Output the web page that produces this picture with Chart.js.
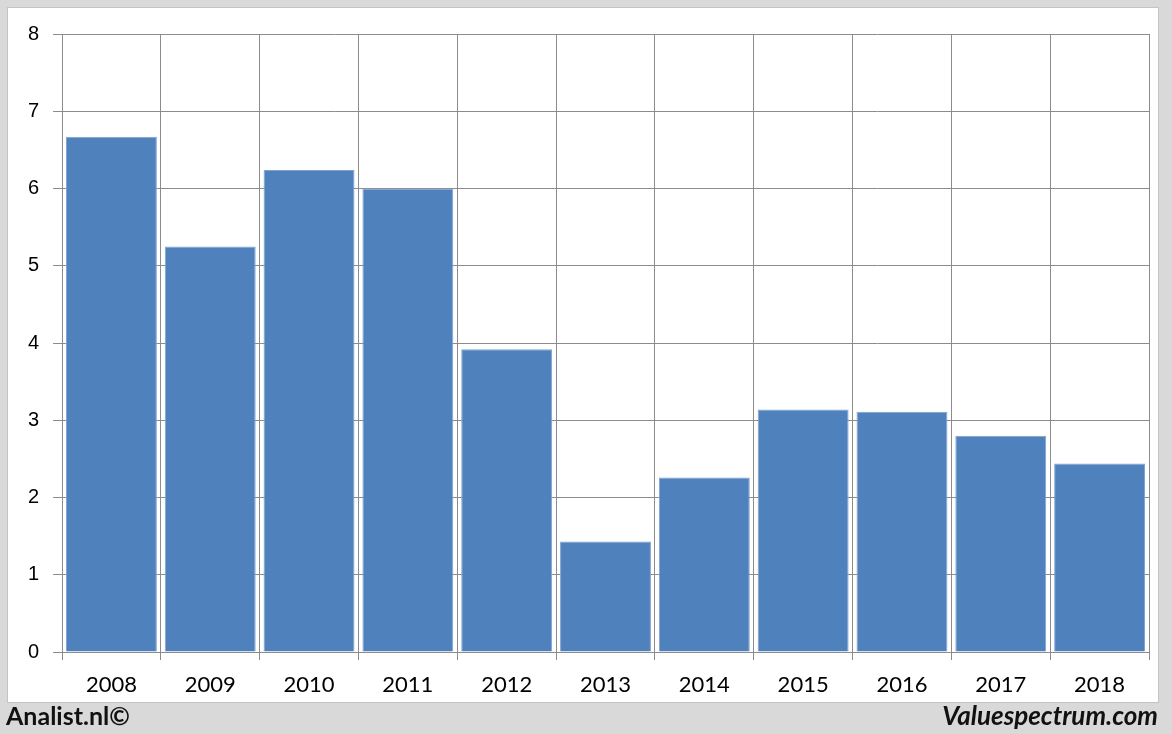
<!DOCTYPE html>
<html>
<head>
<meta charset="utf-8">
<script src="https://cdn.jsdelivr.net/npm/chart.js@4/dist/chart.umd.min.js"></script>
<style>
    body { margin: 0; background: #d9d9d9; width: 1172px; height: 734px; overflow: hidden; position: relative; }
    #panel { position: absolute; left: 8px; top: 8px; width: 1150px; height: 694px; background: #fff; box-shadow: 0 0 0 1px #c4c4c4; }
    #footer-left { position: absolute; left: 6px; top: 700px; font: bold 25px Lato, sans-serif; color: #111; }
    #footer-right { position: absolute; right: 14px; top: 699px; font: italic bold 26px Lato, sans-serif; color: #111; }
</style>
</head>
<body>
<div id="panel"><canvas id="chart" width="1150" height="694"></canvas></div>
<div id="footer-left">Analist.nl©</div>
<div id="footer-right">Valuespectrum.com</div>
<script>
// --- Datos ---
const years = ['2008', '2009', '2010', '2011', '2012', '2013', '2014', '2015', '2016', '2017', '2018'];
const values = [6.67, 5.25, 6.24, 6.0, 3.92, 1.43, 2.26, 3.14, 3.11, 2.80, 2.44];
const yTicks = [0, 1, 2, 3, 4, 5, 6, 7, 8];

document.addEventListener('DOMContentLoaded', () => {
    const ctx = document.getElementById('chart').getContext('2d');

    new Chart(ctx, {
        type: 'bar',
        data: {
            labels: years,
            datasets: [{
                data: values,
                backgroundColor: '#4f81bd',
                borderColor: '#7fa3d0',
                borderWidth: 1,
                barPercentage: 0.92,
                categoryPercentage: 1
            }]
        },
        options: {
            responsive: false,
            animation: false,
            layout: { padding: { top: 25, right: 9, bottom: 0, left: 0 } },
            plugins: { legend: { display: false }, tooltip: { enabled: false } },
            scales: {
                x: {
                    offset: true,
                    afterFit: s => { s.height = 50; },
                    grid: { offset: true, color: '#8c8c8c', tickLength: 8, lineWidth: 1 },
                    border: { color: '#8c8c8c' },
                    ticks: { color: '#000', padding: 12, font: { family: 'Lato', size: 22 } }
                },
                y: {
                    min: 0,
                    max: 8,
                    afterFit: s => { s.width = 54; },
                    afterBuildTicks: s => { s.ticks = yTicks.map(v => ({ value: v })); },
                    grid: { color: '#8c8c8c', tickLength: 9, lineWidth: 1 },
                    border: { color: '#8c8c8c' },
                    ticks: { color: '#000', padding: 14, font: { family: 'Liberation Sans', size: 20 } }
                }
            }
        }
    });
});
</script>
</body>
</html>
